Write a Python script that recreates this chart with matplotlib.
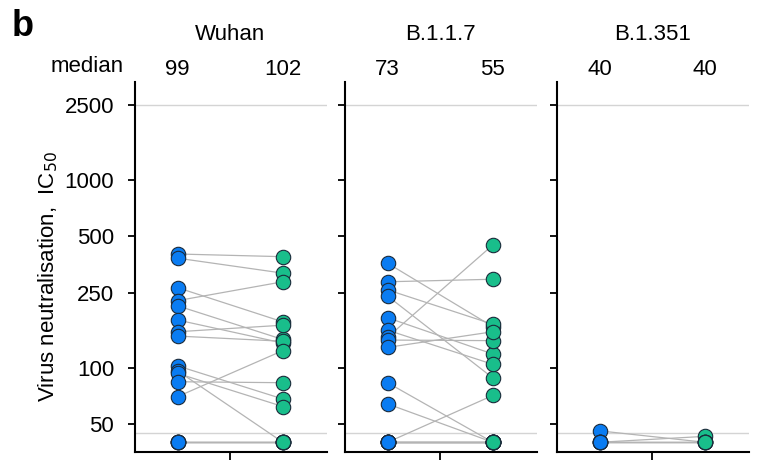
import matplotlib
matplotlib.use("Agg")
import matplotlib.pyplot as plt
import numpy as np

plt.rcParams['font.family'] = ['Liberation Sans', 'DejaVu Sans']

variants = ["Wuhan", "B.1.1.7", "B.1.351"]
medians_first = [99, 73, 40]
medians_second = [102, 55, 40]

wuhan_first = [402, 382, 266, 227, 213, 179, 155, 147, 102, 96, 93, 84, 70, 40, 40, 40, 40, 40]
wuhan_second = [389, 318, 175, 286, 141, 135, 168, 138, 68, 40, 62, 83, 123, 40, 40, 40, 40, 40]

b117_first = [359, 286, 259, 240, 184, 158, 145, 140, 128, 83, 64, 40, 40, 40, 40, 40, 40, 40, 40, 40]
b117_second = [165, 295, 170, 88, 118, 104, 449, 139, 155, 40, 40, 71, 40, 40, 40, 40, 40, 40, 40, 40]

b1351_first = [46, 40, 40, 40, 40, 40]
b1351_second = [40, 43, 40, 40, 40, 40]

data_first = [wuhan_first, b117_first, b1351_first]
data_second = [wuhan_second, b117_second, b1351_second]

yticks = [50, 100, 250, 500, 1000, 2500]
lod = 45

blue = "#0A7CF2"
green = "#19BE8B"

FS = 16

fig = plt.figure(figsize=(7.59, 4.72), dpi=100)
lefts = [135, 345, 557]
W, H = 759, 472
bottom_px, top_px = 452, 82


def fy(py):
    return 1 - py / H


for i, lx in enumerate(lefts):
    ax = fig.add_axes([lx / W, 1 - bottom_px / H, 192 / W, (bottom_px - top_px) / H])
    ax.set_yscale('log')
    ax.set_ylim(35.5, 3310)
    ax.set_xlim(0.595, 2.42)
    ax.axhline(2500, color='#d4d4d4', lw=1, zorder=0)
    ax.axhline(lod, color='#d4d4d4', lw=1, zorder=0)
    f = data_first[i]
    s = data_second[i]
    for a, b in zip(f, s):
        ax.plot([1, 2], [a, b], color='#b4b4b4', lw=0.9, zorder=1)
    ax.scatter([1] * len(f), f, s=108, color=blue, edgecolor='#1a2a3a', linewidth=0.8, zorder=3)
    ax.scatter([2] * len(s), s, s=108, color=green, edgecolor='#1a2a3a', linewidth=0.8, zorder=3)
    ax.set_yticks(yticks)
    ax.yaxis.set_minor_locator(matplotlib.ticker.NullLocator())
    if i == 0:
        ax.set_yticklabels([str(t) for t in yticks], fontsize=FS)
    else:
        ax.set_yticklabels([])
    ax.set_xticks([1.5])
    ax.set_xticklabels([])
    ax.tick_params(axis='y', direction='out', length=5, width=1.3, color='black', pad=10)
    ax.tick_params(axis='x', direction='out', length=6, width=1.3, color='black')
    for sp in ['top', 'right']:
        ax.spines[sp].set_visible(False)
    for sp in ['left', 'bottom']:
        ax.spines[sp].set_linewidth(1.5)
    bt = matplotlib.transforms.blended_transform_factory(ax.transData, fig.transFigure)
    ax.text(1.5, fy(40), variants[i], transform=bt, ha='center', va='baseline', fontsize=FS)
    ax.text(1, fy(75), str(medians_first[i]), transform=bt, ha='center', va='baseline', fontsize=FS)
    ax.text(2, fy(75), str(medians_second[i]), transform=bt, ha='center', va='baseline', fontsize=FS)

fig.text(87 / W, fy(72), "median", ha='center', va='baseline', fontsize=FS)
fig.text(12 / W, fy(36), "b", ha='left', va='baseline', fontsize=26, fontweight='bold')
fig.text(48 / W, fy(277), "Virus neutralisation,  IC$_{50}$", rotation=90, ha='center', va='center', fontsize=FS)

fig.savefig("out.png", dpi=100)
